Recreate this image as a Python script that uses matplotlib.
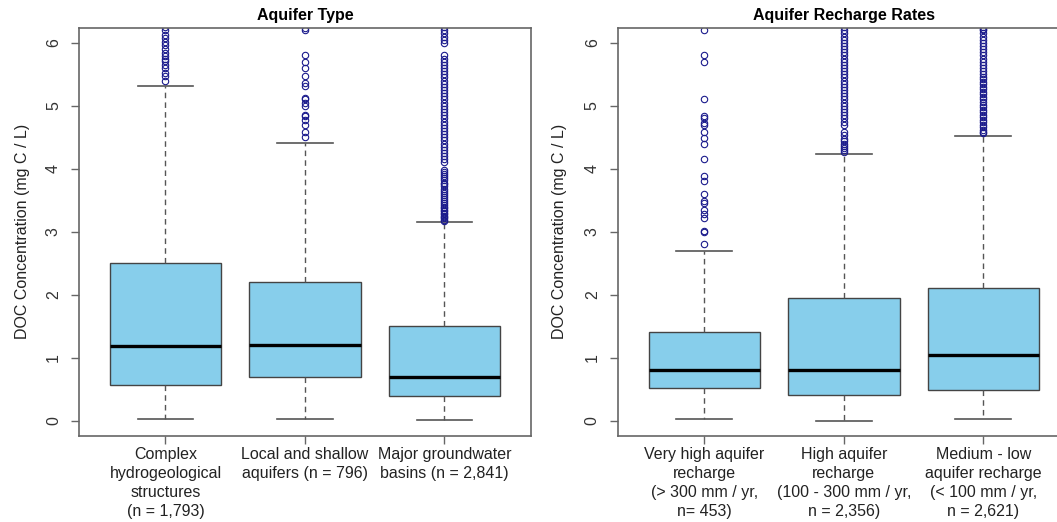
import matplotlib
matplotlib.use("Agg")
import matplotlib.pyplot as plt

plt.rcParams['font.family'] = ['Liberation Sans', 'DejaVu Sans']

# panel 1 : aquifer type
type_labels = ["Complex\nhydrogeological\nstructures\n(n = 1,793)",
               "Local and shallow\naquifers (n = 796)",
               "Major groundwater\nbasins (n = 2,841)"]
type_q1 = [0.57, 0.69, 0.39]
type_med = [1.19, 1.20, 0.70]
type_q3 = [2.50, 2.20, 1.50]
type_lo = [0.02, 0.02, 0.01]
type_hi = [5.31, 4.41, 3.15]
type_out = [
    [5.39, 5.47, 5.52, 5.60, 5.65, 5.71, 5.74, 5.79, 5.84, 5.90, 5.97, 6.02,
     6.08, 6.13, 6.21, 6.25],
    [4.50, 4.58, 4.70, 4.78, 4.83, 4.86, 5.00, 5.04, 5.10, 5.12, 5.31, 5.36,
     5.48, 5.60, 5.70, 5.81, 6.21, 6.23],
    [3.17, 3.19, 3.21, 3.23, 3.25, 3.28, 3.30, 3.33, 3.35, 3.38, 3.40, 3.43,
     3.46, 3.49, 3.52, 3.55, 3.58, 3.62, 3.65, 3.68, 3.72, 3.75, 3.78, 3.82,
     3.85, 3.88, 3.92, 3.95, 3.98, 4.10, 4.15, 4.20, 4.25, 4.30, 4.35, 4.40,
     4.45, 4.50, 4.55, 4.60, 4.65, 4.70, 4.75, 4.80, 4.85, 4.90, 4.95, 5.00,
     5.05, 5.10, 5.15, 5.20, 5.25, 5.30, 5.35, 5.40, 5.45, 5.50, 5.55, 5.60,
     5.65, 5.70, 5.75, 5.81, 6.00, 6.05, 6.10, 6.15, 6.20, 6.25],
]

# panel 2 : recharge rates
rech_labels = ["Very high aquifer\nrecharge\n(> 300 mm / yr,\nn= 453)",
               "High aquifer\nrecharge\n(100 - 300 mm / yr,\nn = 2,356)",
               "Medium - low\naquifer recharge\n(< 100 mm / yr,\nn = 2,621)"]
rech_q1 = [0.51, 0.40, 0.48]
rech_med = [0.80, 0.80, 1.04]
rech_q3 = [1.40, 1.95, 2.10]
rech_lo = [0.02, 0.00, 0.02]
rech_hi = [2.70, 4.24, 4.52]
rech_out = [
    [2.80, 3.00, 3.01, 3.21, 3.28, 3.35, 3.45, 3.48, 3.60, 3.80, 3.89, 4.15,
     4.40, 4.49, 4.59, 4.70, 4.72, 4.81, 4.83, 5.11, 5.70, 5.80, 6.21],
    [4.27, 4.30, 4.33, 4.36, 4.40, 4.44, 4.48, 4.53, 4.58, 4.70, 4.75, 4.80,
     4.85, 4.90, 4.95, 5.00, 5.05, 5.10, 5.15, 5.20, 5.25, 5.30, 5.35, 5.40,
     5.45, 5.50, 5.55, 5.60, 5.65, 5.70, 5.75, 5.80, 5.85, 5.90, 5.95, 6.00,
     6.05, 6.10, 6.15, 6.20, 6.25],
    [4.56, 4.59, 4.62, 4.66, 4.70, 4.74, 4.78, 4.82, 4.86, 4.90, 4.94, 4.98,
     5.02, 5.06, 5.10, 5.14, 5.18, 5.22, 5.26, 5.30, 5.34, 5.38, 5.42, 5.46,
     5.50, 5.55, 5.60, 5.65, 5.70, 5.75, 5.80, 5.85, 5.90, 5.95, 6.00, 6.05,
     6.10, 6.15, 6.20, 6.22, 6.25],
]

FS = 11.5
grey = '#666666'

def panel(ax, title, labels, q1, med, q3, lo, hi, out, ylab_x):
    stats = []
    for i in range(len(labels)):
        stats.append(dict(q1=q1[i], med=med[i], q3=q3[i], whislo=lo[i],
                          whishi=hi[i], fliers=out[i]))
    ax.bxp(stats, positions=[1, 2, 3], widths=0.8, capwidths=0.4,
           patch_artist=True,
           boxprops=dict(facecolor='#87CEEB', edgecolor='#444444', lw=1),
           medianprops=dict(color='black', lw=2.4),
           whiskerprops=dict(color='#555555', lw=1, ls=(0, (4, 3))),
           capprops=dict(color='#555555', lw=1.2),
           flierprops=dict(marker='o', markerfacecolor='none',
                           markeredgecolor='#1a1a8c', markersize=4.6,
                           markeredgewidth=0.8))
    ax.set_xlim(0.38, 3.62)
    ax.set_ylim(-0.24, 6.24)
    ax.set_yticks([0, 1, 2, 3, 4, 5, 6])
    ax.set_xticks([1, 2, 3])
    ax.set_xticklabels(labels, fontsize=FS, linespacing=1.35, color='#222222')
    for t in ax.get_yticklabels():
        t.set_rotation(90)
        t.set_va('center')
        t.set_fontsize(FS)
        t.set_color('#333333')
    ax.tick_params(axis='both', length=6, width=1, color=grey)
    ax.tick_params(axis='y', pad=7)
    ax.tick_params(axis='x', pad=2)
    for s in ax.spines.values():
        s.set_color(grey)
        s.set_linewidth(1.2)
    ax.set_title(title, fontsize=FS, fontweight='bold', pad=5.5)
    ax.set_ylabel("DOC Concentration (mg C / L)", fontsize=FS, color='#222222')
    ax.yaxis.set_label_coords(ylab_x, 0.5)


fig = plt.figure(figsize=(10.57, 5.22), dpi=100)
ax1 = fig.add_axes([0.0747, 0.1653, 0.4276, 0.7816])
ax2 = fig.add_axes([0.5845, 0.1653, 0.4276, 0.7816])

panel(ax1, "Aquifer Type", type_labels, type_q1, type_med, type_q3,
      type_lo, type_hi, type_out, -0.108)
panel(ax2, "Aquifer Recharge Rates", rech_labels, rech_q1, rech_med, rech_q3,
      rech_lo, rech_hi, rech_out, -0.112)
# the right-hand frame runs off the edge of the picture
ax2.spines['right'].set_visible(False)

fig.savefig("out.png", dpi=100)
